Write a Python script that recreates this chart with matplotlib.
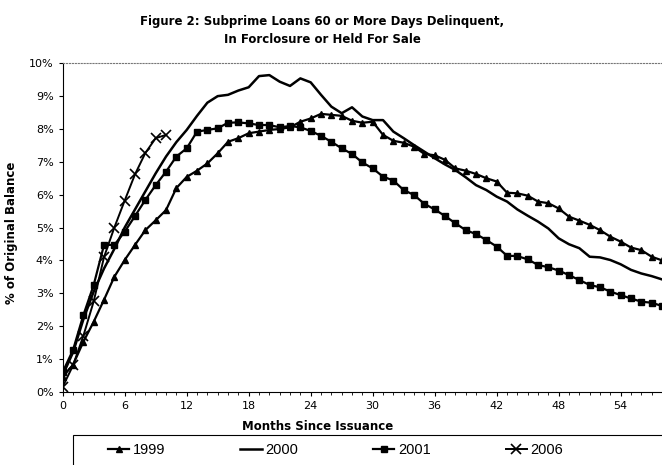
import matplotlib
matplotlib.use("Agg")
import matplotlib.pyplot as plt
from matplotlib.patches import Rectangle
from matplotlib.ticker import MultipleLocator, FuncFormatter

# months since issuance
months_long = list(range(0, 59))
months_2006 = list(range(0, 11))

# % of original balance
v1999 = [0.45, 0.82, 1.52, 2.13, 2.8, 3.5, 4.01, 4.47, 4.92, 5.22, 5.53,
         6.2, 6.54, 6.73, 6.95, 7.26, 7.61, 7.72, 7.87, 7.92, 7.97,
         8.0, 8.05, 8.22, 8.32, 8.46, 8.43, 8.4, 8.25, 8.19, 8.22,
         7.82, 7.64, 7.58, 7.46, 7.24, 7.2, 7.06, 6.8, 6.73, 6.63,
         6.5, 6.4, 6.06, 6.04, 5.97, 5.79, 5.74, 5.58, 5.33, 5.21,
         5.08, 4.92, 4.72, 4.57, 4.39, 4.31, 4.11, 4.0]
v2000 = [0.5, 1.2, 2.2, 3.05, 3.75, 4.35, 5.0, 5.55, 6.1, 6.65, 7.16,
         7.6, 7.97, 8.4, 8.8, 9.0, 9.04, 9.17, 9.27, 9.61, 9.64,
         9.44, 9.31, 9.54, 9.42, 9.04, 8.68, 8.48, 8.66, 8.38, 8.27,
         8.27, 7.92, 7.72, 7.51, 7.31, 7.11, 6.92, 6.75, 6.53, 6.29,
         6.14, 5.94, 5.79, 5.55, 5.36, 5.18, 4.97, 4.67, 4.49, 4.37,
         4.11, 4.09, 4.01, 3.88, 3.71, 3.6, 3.52, 3.42]
v2001 = [0.6, 1.27, 2.33, 3.25, 4.47, 4.47, 4.87, 5.35, 5.84, 6.29, 6.7,
         7.16, 7.41, 7.92, 7.97, 8.02, 8.19, 8.2, 8.17, 8.12, 8.12,
         8.05, 8.09, 8.05, 7.94, 7.79, 7.61, 7.41, 7.24, 6.98, 6.8,
         6.55, 6.43, 6.14, 5.99, 5.72, 5.55, 5.35, 5.13, 4.92, 4.8,
         4.62, 4.42, 4.14, 4.13, 4.03, 3.86, 3.79, 3.69, 3.55, 3.4,
         3.25, 3.18, 3.05, 2.94, 2.84, 2.74, 2.71, 2.61]
v2006 = [0.15, 0.8, 1.7, 2.75, 4.1, 5.0, 5.82, 6.62, 7.27, 7.72, 7.82]

fig = plt.figure(figsize=(6.62, 4.65), dpi=100)
ax = fig.add_axes([0.0947, 0.1576, 0.9053, 0.7063])

ax.plot(months_long, v1999, color='black', lw=1.6, marker='^', ms=5, label='1999')
ax.plot(months_long, v2000, color='black', lw=1.8, label='2000')
ax.plot(months_long, v2001, color='black', lw=1.6, marker='s', ms=5, label='2001')
ax.plot(months_2006, v2006, color='black', lw=1.4, marker='x', ms=6.5, mew=1.2, label='2006')

ax.set_xlim(0, 58)
ax.set_ylim(0, 10)
ax.xaxis.set_major_locator(MultipleLocator(6))
ax.xaxis.set_minor_locator(MultipleLocator(1))
ax.yaxis.set_major_locator(MultipleLocator(1))
ax.yaxis.set_major_formatter(FuncFormatter(lambda v, p: '%d%%' % v))
ax.tick_params(labelsize=8, length=3)
ax.tick_params(which='minor', length=2)
ax.spines['right'].set_visible(False)
ax.spines['top'].set_color('#777777')
ax.spines['top'].set_linestyle(':')

ax.set_xlabel('Months Since Issuance', fontsize=8.5, fontweight='bold')
ax.xaxis.set_label_coords(0.426, -0.085)
ax.set_ylabel('% of Original Balance', fontsize=8.5, fontweight='bold')
ax.yaxis.set_label_coords(-0.075, 0.485)

fig.text(0.487, 0.967, 'Figure 2: Subprime Loans 60 or More Days Delinquent,\nIn Forclosure or Held For Sale',
         ha='center', va='top', fontsize=8.5, fontweight='bold', linespacing=1.45)

# legend box runs off the bottom and right edges like in the source
fig.patches.append(Rectangle((73 / 662, -0.05), 0.95, 1 - 435 / 465 + 0.05,
                             transform=fig.transFigure, fill=False,
                             edgecolor='black', lw=0.8))
leg = fig.legend(loc='center left', ncol=4, bbox_to_anchor=(108 / 662, 1 - 450 / 465),
                 prop={'family': 'Liberation Sans', 'size': 10.5},
                 handlelength=1.45, handletextpad=0.25, columnspacing=5.15,
                 frameon=False, borderaxespad=0, borderpad=0)

fig.savefig('out.png', dpi=100)
